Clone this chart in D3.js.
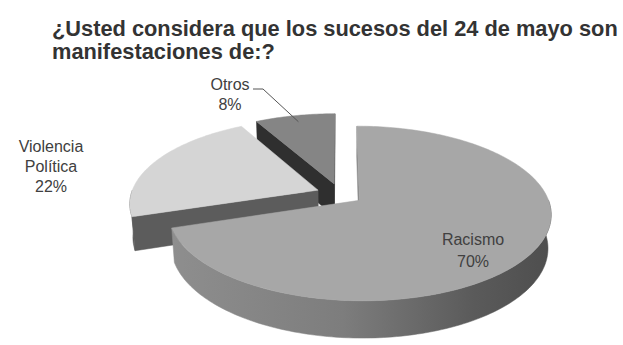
<!DOCTYPE html>
<html>
<head>
<meta charset="utf-8">
<script src="https://cdn.jsdelivr.net/npm/d3@7"></script>
<style>
  body { margin: 0; background: #fff; }
  svg { display: block; }
</style>
</head>
<body>
<div id="chart"></div>
<script>

// data
var categories = ["Racismo", "Violencia Política", "Otros"];
var values = [70, 22, 8];
var pctLabels = ["70%", "22%", "8%"];
var labelLines = [["Racismo"], ["Violencia", "Política"], ["Otros"]];
var titleLines = ["¿Usted considera que los sucesos del 24 de mayo son", "manifestaciones de:?"];

var W = 623, H = 345;

// 3d pie setup
var g3 = {
  cx: 340, cy: 194,   // screen pos of pie centre
  S: 187,             // radius in px
  tilt: 26.5 * Math.PI / 180,
  D: 6,               // camera distance (radius units)
  explode: 0.127,
  thick: 0.2
};
var sinT = Math.sin(g3.tilt), cosT = Math.cos(g3.tilt);

// x right, y up, z back
function proj(x, y, z) {
  var Yv = z * sinT + y * cosT;
  var Zv = z * cosT - y * sinT;
  var s = g3.D / (g3.D + Zv);
  return [g3.cx + g3.S * x * s, g3.cy - g3.S * Yv * s];
}
var camera = [0, g3.D * sinT, -g3.D * cosT];

var topColor = d3.scaleOrdinal().domain(categories).range(["#a7a7a7", "#d5d5d5", "#858585"]);
var sideColor = d3.scaleOrdinal().domain(categories).range(["#8a8a8a", "#5c5c5c", "#2f2f2f"]);

var svg = d3.select("#chart").append("svg")
  .attr("width", W).attr("height", H);

var defs = svg.append("defs");
var grad = defs.append("linearGradient").attr("id", "wallGrad")
  .attr("x1", "0%").attr("x2", "100%").attr("y1", "0%").attr("y2", "0%");
grad.append("stop").attr("offset", "0%").attr("stop-color", "#8e8e8e");
grad.append("stop").attr("offset", "45%").attr("stop-color", "#7d7d7d");
grad.append("stop").attr("offset", "80%").attr("stop-color", "#5a5a5a");
grad.append("stop").attr("offset", "100%").attr("stop-color", "#4e4e4e");

// title
svg.append("g").selectAll("text").data(titleLines).enter().append("text")
  .attr("x", 52)
  .attr("y", function (d, i) { return 36 + i * 23; })
  .attr("font-family", "Liberation Sans, Arial, sans-serif")
  .attr("font-weight", "bold")
  .attr("font-size", "21.8px")
  .attr("fill", "#333")
  .text(function (d) { return d; });

var data = categories.map(function (c, i) { return { name: c, value: values[i], idx: i }; });
var arcs = d3.pie().sort(null).value(function (d) { return d.value; })(data);

var line = d3.line();

function pt(a, t, r, y) {
  return proj(a.ox + r * Math.sin(t), y, a.oz + r * Math.cos(t));
}

function dist(p) {
  return Math.hypot(camera[0] - p[0], camera[1] - p[1], camera[2] - p[2]);
}

var walls = [];
arcs.forEach(function (a) {
  var mid = (a.startAngle + a.endAngle) / 2;
  a.ox = g3.explode * Math.sin(mid);
  a.oz = g3.explode * Math.cos(mid);
  var h = -g3.thick;

  // outer wall, front half only
  var w0 = Math.max(a.startAngle, Math.PI / 2), w1 = Math.min(a.endAngle, 3 * Math.PI / 2);
  if (w1 > w0) {
    var n = Math.max(4, Math.ceil((w1 - w0) / 0.02));
    var topArc = d3.range(n + 1).map(function (k) { return pt(a, w0 + (w1 - w0) * k / n, 1, 0); });
    var botArc = d3.range(n + 1).map(function (k) { return pt(a, w0 + (w1 - w0) * k / n, 1, h); }).reverse();
    var wm = (w0 + w1) / 2;
    walls.push({
      d: line(topArc.concat(botArc)) + "Z",
      fill: a.data.idx === 0 ? "url(#wallGrad)" : sideColor(a.data.name),
      depth: dist([a.ox + Math.sin(wm), h / 2, a.oz + Math.cos(wm)])
    });
  }

  // radial faces, only the ones facing the camera
  [[a.startAngle, -1], [a.endAngle, 1]].forEach(function (f) {
    var t = f[0];
    var nrm = [f[1] * Math.cos(t), 0, -f[1] * Math.sin(t)];
    var c = [a.ox + 0.5 * Math.sin(t), h / 2, a.oz + 0.5 * Math.cos(t)];
    var v = [camera[0] - c[0], camera[1] - c[1], camera[2] - c[2]];
    if (v[0] * nrm[0] + v[1] * nrm[1] + v[2] * nrm[2] <= 0) return;
    var poly = [pt(a, t, 0, 0), pt(a, t, 1, 0), pt(a, t, 1, h), pt(a, t, 0, h)];
    walls.push({
      d: line(poly) + "Z",
      fill: d3.color(sideColor(a.data.name)).darker(f[1] > 0 ? 0.1 : 0).formatHex(),
      depth: dist(c)
    });
  });
});

walls.sort(function (a, b) { return b.depth - a.depth; });

svg.append("g").selectAll("path").data(walls).enter().append("path")
  .attr("d", function (d) { return d.d; })
  .attr("fill", function (d) { return d.fill; })
  .attr("stroke", function (d) { return d.fill; })
  .attr("stroke-width", 0.5);

// top faces
svg.append("g").selectAll("path").data(arcs).enter().append("path")
  .attr("d", function (a) {
    var n = Math.ceil((a.endAngle - a.startAngle) / 0.02);
    var pts = [pt(a, 0, 0, 0)].concat(d3.range(n + 1).map(function (k) {
      return pt(a, a.startAngle + (a.endAngle - a.startAngle) * k / n, 1, 0);
    }));
    return line(pts) + "Z";
  })
  .attr("fill", function (a) { return topColor(a.data.name); })
  .attr("stroke", function (a) { return topColor(a.data.name); })
  .attr("stroke-width", 0.5);

// labels
var labelPos = [[473, 245], [51, 152], [230, 90]];
var lab = svg.append("g").selectAll("text").data(arcs).enter().append("text")
  .attr("text-anchor", "middle")
  .attr("font-family", "Liberation Sans, Arial, sans-serif")
  .attr("font-size", "16px")
  .attr("fill", "#404040")
  .attr("x", function (a) { return labelPos[a.index][0]; })
  .attr("y", function (a) { return labelPos[a.index][1]; });

lab.each(function (a) {
  var lines = labelLines[a.index].concat([pctLabels[a.index]]);
  var t = d3.select(this);
  lines.forEach(function (s, i) {
    t.append("tspan")
      .attr("x", labelPos[a.index][0])
      .attr("dy", i === 0 ? 0 : (a.index === 0 ? 22 : 20))
      .text(s);
  });
});

// leader line for Otros
var otros = arcs[2];
var tip = pt(otros, (otros.startAngle + otros.endAngle) / 2, 0.9, 0);
svg.append("path")
  .attr("d", line([[253, 89], [263, 89], tip]))
  .attr("fill", "none")
  .attr("stroke", "#555")
  .attr("stroke-width", 1);

</script>
</body>
</html>
